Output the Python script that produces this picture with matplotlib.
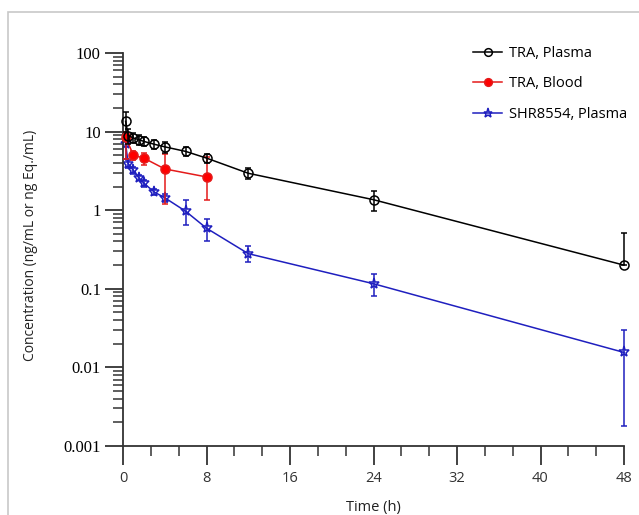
import numpy as np
import matplotlib
matplotlib.use("Agg")
import matplotlib.pyplot as plt
from matplotlib.patches import Rectangle
from matplotlib.ticker import FixedLocator, LogLocator, NullFormatter

# TRA, Plasma
t_plasma = [0.25, 0.5, 1, 1.5, 2, 3, 4, 6, 8, 12, 24, 48]
c_plasma = [13.5, 8.9, 8.3, 7.9, 7.5, 6.9, 6.4, 5.6, 4.6, 2.95, 1.36, 0.20]
hi_plasma = [4.0, 2.0, 1.2, 1.2, 1.0, 0.9, 1.0, 0.7, 0.6, 0.5, 0.42, 0.32]
lo_plasma = [3.5, 2.0, 1.2, 1.2, 1.0, 0.9, 1.0, 0.7, 0.6, 0.45, 0.39, 0.0]

# TRA, Blood
t_blood = [0.25, 1, 2, 4, 8]
c_blood = [8.5, 5.0, 4.6, 3.35, 2.65]
hi_blood = [1.5, 0.6, 0.8, 1.9, 2.05]
lo_blood = [4.0, 0.6, 0.8, 2.15, 1.3]

# SHR8554, Plasma
t_shr = [0.25, 0.5, 1, 1.5, 2, 3, 4, 6, 8, 12, 24, 48]
c_shr = [7.0, 3.9, 3.2, 2.6, 2.2, 1.7, 1.44, 0.97, 0.59, 0.28, 0.116, 0.0155]
hi_shr = [2.5, 0.5, 0.3, 0.2, 0.2, 0.15, 0.15, 0.37, 0.19, 0.07, 0.037, 0.014]
lo_shr = [2.5, 0.5, 0.3, 0.2, 0.2, 0.15, 0.15, 0.33, 0.18, 0.06, 0.035, 0.0137]

labels = ["TRA, Plasma", "TRA, Blood", "SHR8554, Plasma"]
x_ticks = [0, 8, 16, 24, 32, 40, 48]
y_ticks = [0.001, 0.01, 0.1, 1, 10, 100]
y_ticklabels = ["0.001", "0.01", "0.1", "1", "10", "100"]

sans = ["Open Sans", "DejaVu Sans"]
axis_col = "#333333"

fig = plt.figure(figsize=(6.39, 5.15), dpi=100)
fig.patches.append(Rectangle((8 / 639, -0.1), 1.2, 1 - 12 / 515 + 0.1,
                             transform=fig.transFigure, fill=False,
                             edgecolor="#c8c8c8", linewidth=1.2))
ax = fig.add_axes([123 / 639, 1 - 446 / 515, 501 / 639, 393 / 515])

series = [
    (t_plasma, c_plasma, lo_plasma, hi_plasma, "black", "o", "none", 6.5, 4),
    (t_blood, c_blood, lo_blood, hi_blood, "#e41a1a", "o", "#ff0000", 6.5, 3),
    (t_shr, c_shr, lo_shr, hi_shr, "#1f1fbf", "*", "none", 8, 2),
]
handles = []
for (t, c, lo, hi, col, mk, mfc, ms, z), lab in zip(series, labels):
    h = ax.errorbar(t, c, yerr=[lo, hi], color=col, marker=mk, mfc=mfc,
                    mec=col, ms=ms, mew=1.1, lw=1.1, elinewidth=1.1,
                    capsize=2, capthick=1.0, zorder=z, label=lab,
                    clip_on=False)
    handles.append(h[0])

ax.set_yscale("log")
ax.set_xlim(0, 48)
ax.set_ylim(0.001, 100)

ax.xaxis.set_major_locator(FixedLocator(x_ticks))
ax.xaxis.set_minor_locator(FixedLocator(np.arange(0, 48.01, 8 / 3)))
ax.set_yticks(y_ticks)
ax.set_yticklabels(y_ticklabels)
ax.yaxis.set_minor_locator(LogLocator(base=10, subs=np.arange(2, 10)))
ax.yaxis.set_minor_formatter(NullFormatter())

for s in ["top", "right"]:
    ax.spines[s].set_visible(False)
for s in ["left", "bottom"]:
    ax.spines[s].set_color(axis_col)
    ax.spines[s].set_linewidth(1.3)

ax.tick_params(axis="y", which="major", direction="out", length=13,
               width=1.3, color=axis_col, pad=3, labelsize=12)
ax.tick_params(axis="y", which="minor", direction="out", length=7,
               width=1.1, color=axis_col)
ax.tick_params(axis="x", which="major", direction="out", length=14,
               width=1.3, color=axis_col, pad=4, labelsize=10.5,
               labelcolor="#333333")
ax.tick_params(axis="x", which="minor", direction="out", length=7,
               width=1.1, color=axis_col)
for lbl in ax.get_yticklabels():
    lbl.set_family(["Liberation Serif", "DejaVu Serif"])
for lbl in ax.get_xticklabels():
    lbl.set_family(sans)

ax.set_xlabel("Time (h)", family=sans, fontsize=10.5, color="#222222",
              labelpad=10)
ax.set_ylabel("Concentration (ng/mL or ng Eq./mL)", family=sans,
              fontsize=10, color="#222222")
ax.yaxis.set_label_coords(-(123 - 38) / 501, 0.51)

leg = ax.legend(handles, labels, loc="upper left",
                bbox_to_anchor=(473 / 639, 1 - 46 / 515),
                bbox_transform=fig.transFigure, frameon=False,
                prop={"family": sans, "size": 10.5}, handlelength=2.0,
                handletextpad=0.5, labelspacing=1.05, borderpad=0,
                borderaxespad=0, markerscale=0.85)

fig.savefig("out.png", dpi=100)
